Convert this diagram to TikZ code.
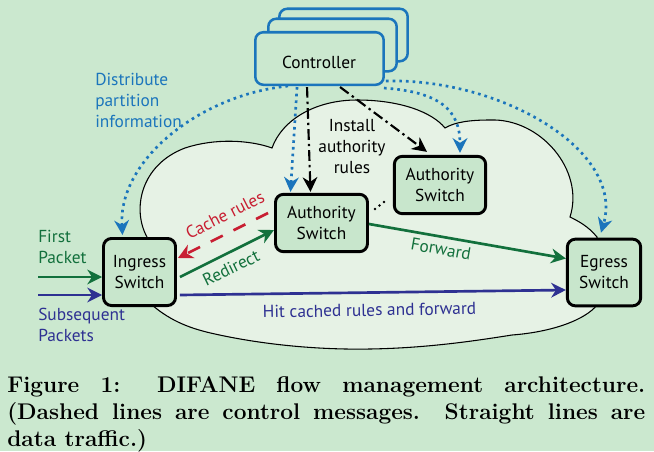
\documentclass[tikz,border=0pt]{standalone}
\usepackage{fontspec}
\newfontfamily\lblfont{PT Sans}
\usetikzlibrary{arrows.meta,calc}
\definecolor{bg}{RGB}{203,232,207}
\definecolor{cloudfill}{RGB}{230,242,229}
\definecolor{nodefill}{RGB}{200,230,204}
\definecolor{ctrlblue}{RGB}{27,117,188}
\definecolor{dgreen}{RGB}{18,112,60}
\definecolor{dblue}{RGB}{46,49,146}
\definecolor{dred}{RGB}{200,30,50}
\tikzset{
  lbl/.style={font={\lblfont\fontsize{13}{15.75}\selectfont}, inner sep=0pt},
  sw/.style={draw=black, line width=2.2pt, fill=nodefill, rounded corners=6pt,
    align=center, lbl},
  ctrlbox/.style={draw=ctrlblue, line width=1.9pt, fill=bg, rounded corners=6pt,
    minimum width=96.3pt, minimum height=39.4pt, inner sep=0pt},
  tipa/.style={-{Stealth[length=11pt,width=11pt,inset=3.5pt]}},
  datal/.style={line width=2pt, tipa},
  ctrll/.style={ctrlblue, line width=2pt, dash pattern=on 2pt off 3pt, tipa},
  install/.style={black, line width=1.6pt, dash pattern=on 8pt off 3pt on 1.8pt off 3pt, tipa},
  cachel/.style={dred, line width=2pt, dash pattern=on 10pt off 9pt, tipa},
  capt/.style={font={\fontsize{17}{20.25}\selectfont\bfseries}, inner sep=0pt},
}
\begin{document}
\begin{tikzpicture}[x=0.75pt,y=-0.75pt]
\useasboundingbox (0,0) rectangle (654,451);
\fill[bg] (0,0) rectangle (654,451);

% cloud
\draw[black, line width=0.8pt, fill=cloudfill]
  (152,305)
  .. controls (172,322) and (192,329) .. (215,334)
  .. controls (260,344) and (315,350) .. (370,349)
  .. controls (430,348) and (480,340) .. (512,335)
  .. controls (552,332) and (585,320) .. (597,305)
  -- (597,237)
  .. controls (588,226) and (578,221) .. (570,217)
  .. controls (585,170) and (540,118) .. (490,120)
  .. controls (470,120) and (455,122) .. (445,128)
  .. controls (432,112) and (400,100) .. (357,100)
  .. controls (315,100) and (282,120) .. (272,148)
  .. controls (250,140) and (215,138) .. (185,148)
  .. controls (140,165) and (132,210) .. (147,237)
  -- cycle;

% controller stack
\node[ctrlbox] (ctrlC) at (343.5,35) {};
\node[ctrlbox] (ctrlB) at (332.5,45) {};
\node[ctrlbox] (ctrl) at (319.5,58.5) {};
\node[lbl] (ctrltxt) at (319,62) {Controller};

% switches
\node[sw, minimum width=54pt, minimum height=50.3pt] (ing) at (139.5,272) {Ingress\\Switch};
\node[sw, minimum width=69pt, minimum height=43pt] (auth) at (321.5,223) {Authority\\Switch};
\node[sw, minimum width=68.5pt, minimum height=43pt] (auth2) at (440,185) {Authority\\Switch};
\node[sw, minimum width=55pt, minimum height=50pt] (egr) at (604,272.5) {Egress\\Switch};

% input packets
\coordinate (fp) at (38,277);
\coordinate (sp) at (38,295);
\draw[datal, dgreen] (fp) -- (fp -| ing.west);
\draw[datal, dblue] (sp) -- (sp -| ing.west);
\node[lbl, dgreen, anchor=west, align=left] (fptxt) at (38,247) {First\\Packet};
\node[lbl, dblue, anchor=west, align=left] (sptxt) at (38,325) {Subsequent\\Packets};

% data paths
\draw[datal, dgreen] ($(ing.east)+(3,5)$) -- ($(auth.west)+(0,7)$);
\draw[cachel] ($(auth.west)+(-6,-10)$) -- ($(ing.east)+(1,-14)$);
\draw[datal, dgreen] ($(auth.east)+(0,1)$) -- ($(egr.west)+(0,-14)$);
\draw[datal, dblue] ($(ing.east)+(3,23)$) -- ($(egr.west)+(0,17.5)$);

\node[lbl, dgreen, rotate=26] (redir) at (231,268) {Redirect};
\node[lbl, dred, rotate=27] (cachetxt) at (225,215) {Cache rules};
\node[lbl, dgreen, rotate=-10] (fwd) at (441,249) {Forward};
\node[lbl, dblue, rotate=1] (hit) at (369.5,310) {Hit cached rules and forward};

% control: distribute partition information (dotted)
\draw[ctrll] ($(ctrl.south west)+(34,0)$) .. controls (200,95) and (118,160) .. ($(ing.north)+(-17,-2)$);
\draw[ctrll] ($(ctrl.south west)+(43,1)$) -- ($(auth.north)+(-31,-1)$);
\draw[ctrll] ($(ctrl.south east)+(-1,2)$) .. controls (440,92) and (460,110) .. ($(auth2.north)+(20,-2)$);
\draw[ctrll] ($(ctrl.south east)+(1,-5)$) .. controls (500,78) and (625,150) .. ($(egr.north)+(-3,-5)$);
\node[lbl, ctrlblue, anchor=west, align=left] (dist) at (95,100) {Distribute\\partition\\information};

% install authority rules (dash-dot)
\draw[install] ($(ctrl.south west)+(53,1)$) -- ($(auth.north)+(-11,-1)$);
\draw[install] ($(ctrl.south west)+(86,1)$) -- ($(auth2.north)+(-13,-3)$);
\node[lbl, align=center] (insttxt) at (352,147) {Install\\authority\\rules};

% ellipsis between authority switches
\fill (375,209) circle (1.4);
\fill (379.5,205.5) circle (1.4);
\fill (384,202) circle (1.4);

% caption
\node[capt, anchor=base west] (cap1) at (7,392) {\makebox[478.5pt][s]{Figure 1: DIFANE flow management architecture.}};
\node[capt, anchor=base west] (cap2) at (7,419) {\makebox[478.5pt][s]{(Dashed lines are control messages. Straight lines are}};
\node[capt, anchor=base west] (cap3) at (7,446) {data traffic.)};
\end{tikzpicture}
\end{document}
